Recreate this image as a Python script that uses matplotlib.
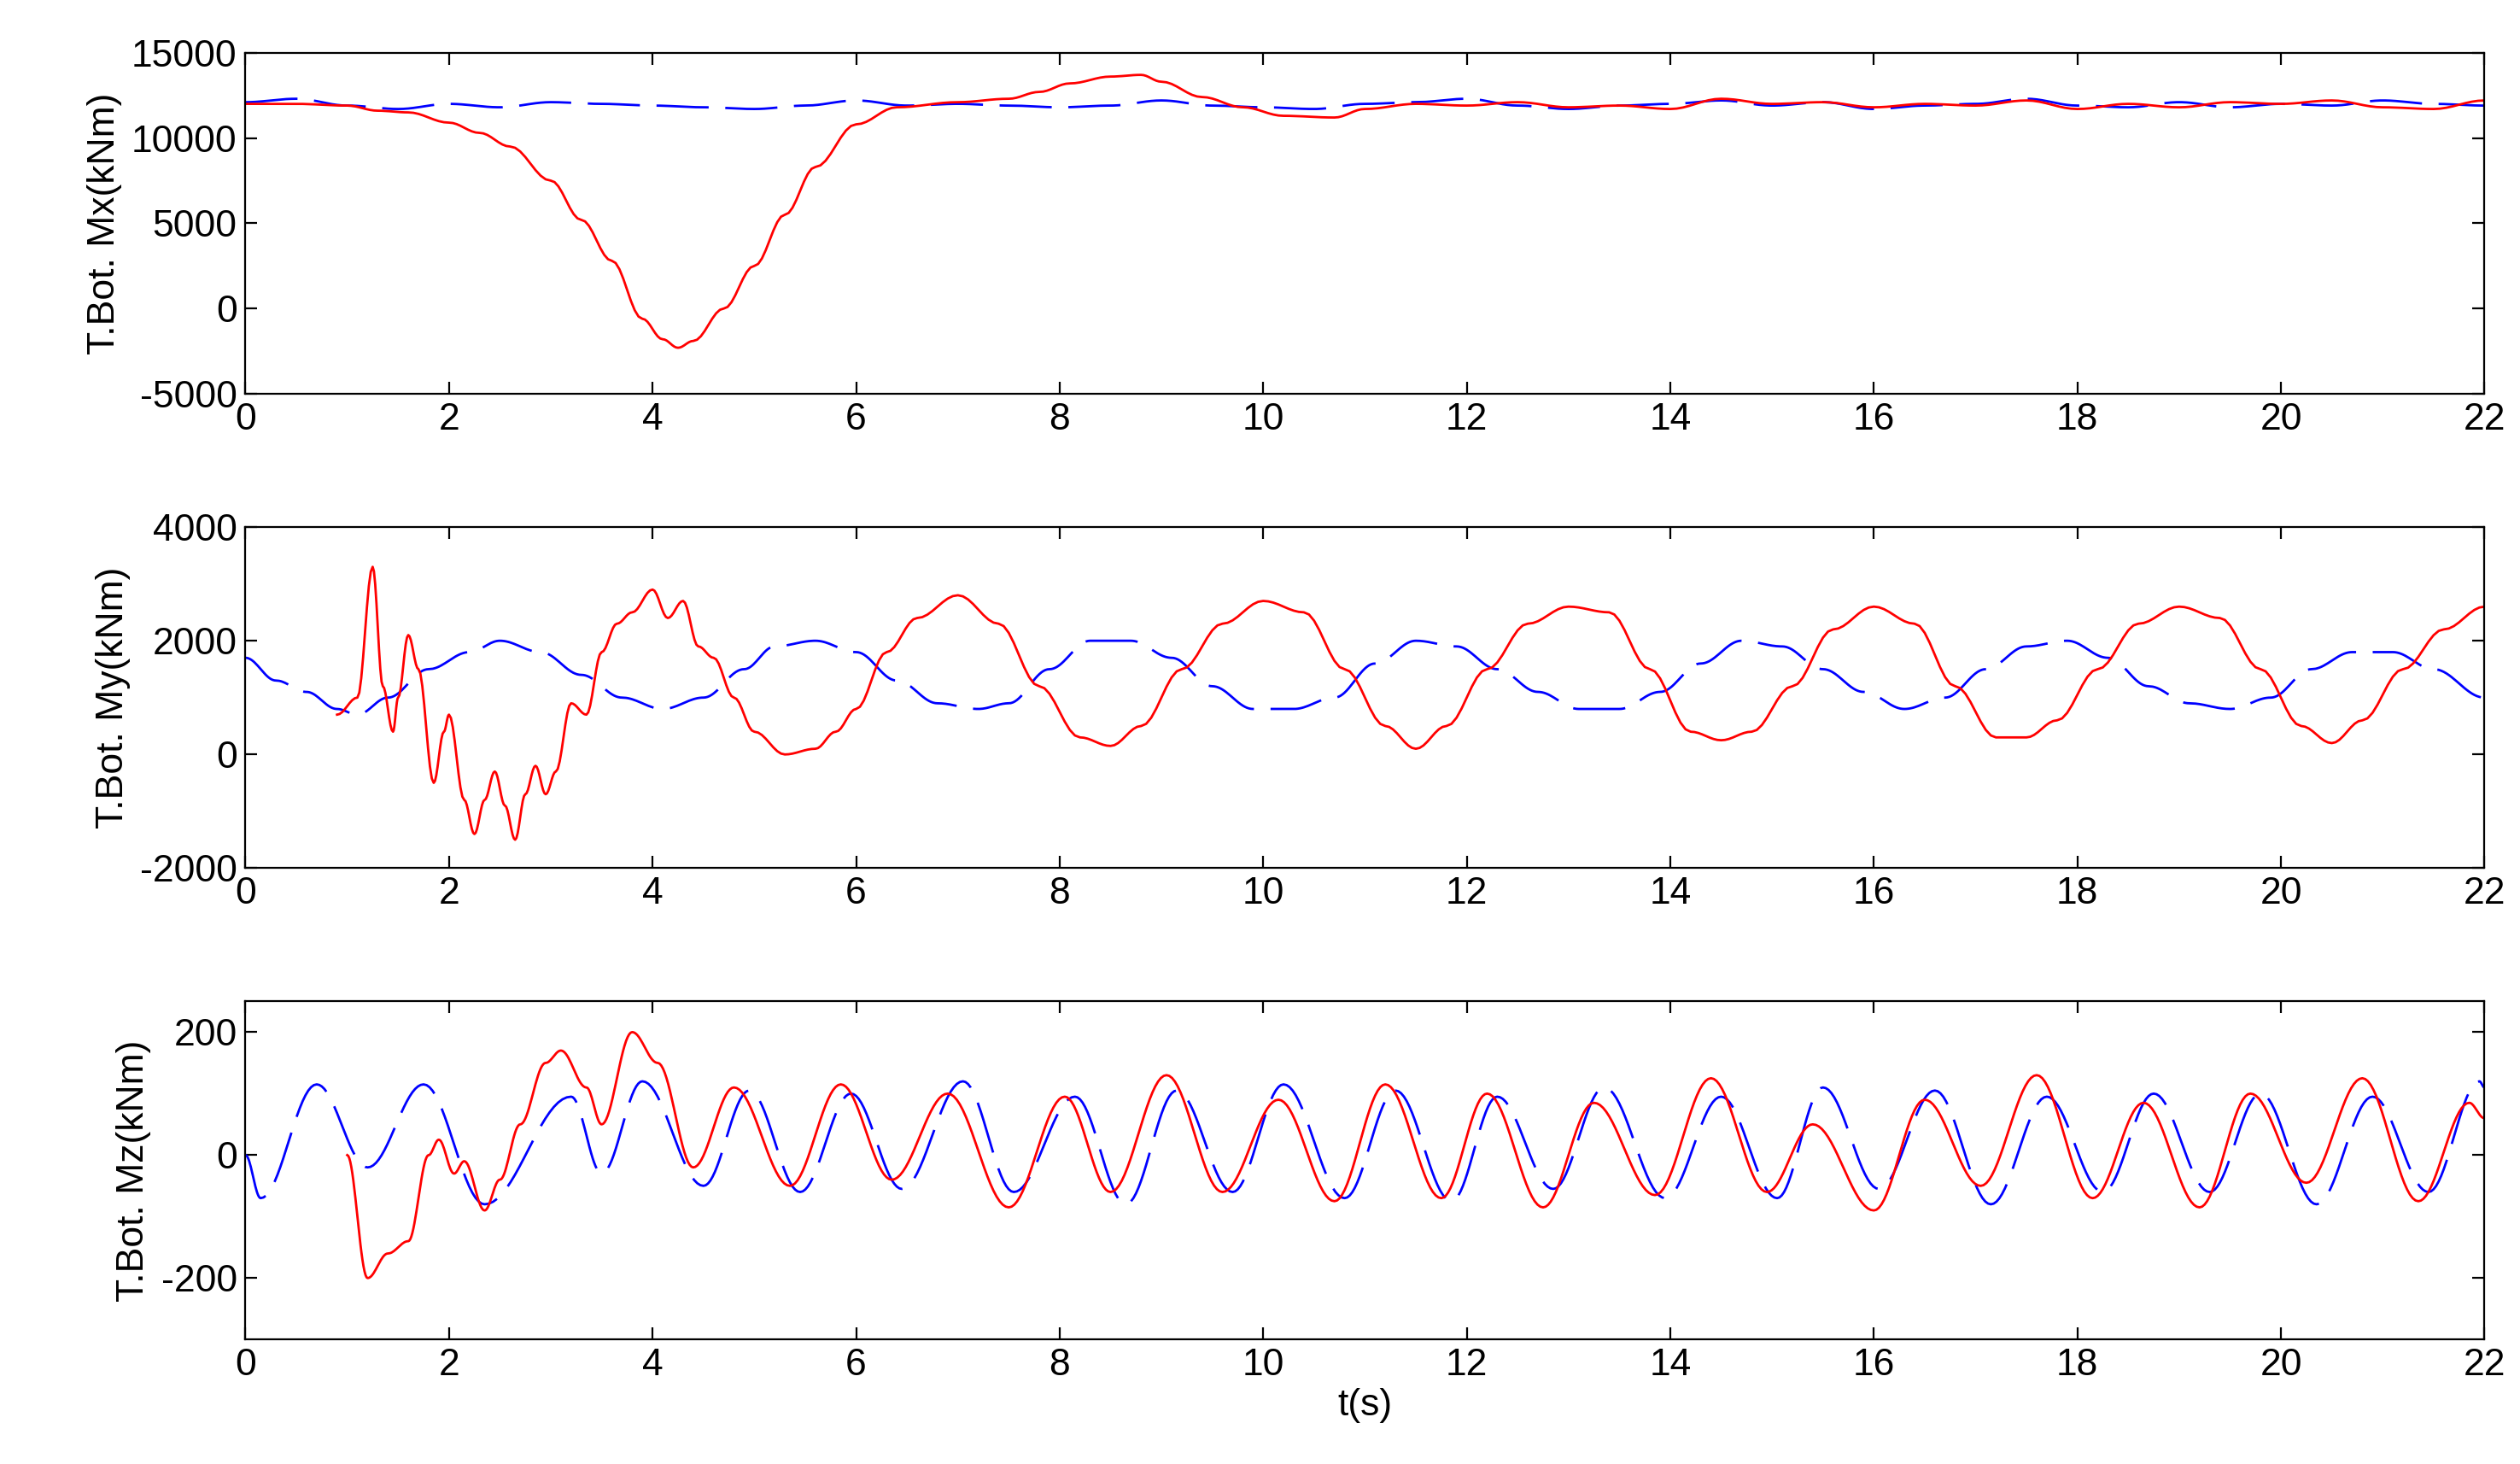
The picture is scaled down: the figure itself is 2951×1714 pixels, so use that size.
import numpy as np
import matplotlib
matplotlib.use("Agg")
import matplotlib.pyplot as plt

plt.rcParams['font.family'] = ['Liberation Sans', 'DejaVu Sans']
plt.rcParams['axes.unicode_minus'] = False

# ---- Data ----
mx_red_t = [0, 0.5, 1.0, 1.3, 1.6, 2.0, 2.3, 2.6, 3.0, 3.3, 3.6, 3.9, 4.1, 4.25, 4.4, 4.7, 5.0, 5.3, 5.6, 6.0, 6.4, 7.0, 7.5, 7.8, 8.1, 8.5, 8.8, 9.0, 9.4, 9.8, 10.2, 10.7, 11.0, 11.5, 12.0, 12.5, 13.0, 13.5, 14.0, 14.5, 15.0, 15.5, 16.0, 16.5, 17.0, 17.5, 18.0, 18.5, 19.0, 19.5, 20.0, 20.5, 21.0, 21.5, 22.0]
mx_red_v = [12000, 12000, 11900, 11600, 11500, 10900, 10300, 9500, 7500, 5200, 2800, -600, -1800, -2300, -1900, 0, 2500, 5500, 8300, 10800, 11800, 12100, 12300, 12700, 13200, 13600, 13700, 13300, 12400, 11800, 11300, 11200, 11700, 12000, 11900, 12100, 11800, 11900, 11700, 12300, 12000, 12100, 11800, 12000, 11900, 12200, 11700, 12000, 11800, 12100, 12000, 12200, 11800, 11700, 12200]
mx_blue_t = [0, 0.5, 1.0, 1.5, 2.0, 2.5, 3.0, 3.5, 4.0, 4.5, 5.0, 5.5, 6.0, 6.5, 7.0, 7.5, 8.0, 8.5, 9.0, 9.5, 10.0, 10.5, 11.0, 11.5, 12.0, 12.5, 13.0, 13.5, 14.0, 14.5, 15.0, 15.5, 16.0, 16.5, 17.0, 17.5, 18.0, 18.5, 19.0, 19.5, 20.0, 20.5, 21.0, 21.5, 22.0]
mx_blue_v = [12100, 12300, 11900, 11700, 12000, 11800, 12100, 12000, 11900, 11800, 11700, 11900, 12200, 11900, 12000, 11900, 11800, 11900, 12200, 11900, 11800, 11700, 12000, 12100, 12300, 11900, 11700, 11900, 12000, 12200, 11900, 12100, 11700, 11900, 12000, 12300, 11900, 11800, 12100, 11800, 12000, 11900, 12200, 12000, 11900]

my_red_t = [0.9, 1.1, 1.25, 1.35, 1.45, 1.5, 1.6, 1.7, 1.85, 1.95, 2.0, 2.15, 2.25, 2.35, 2.45, 2.55, 2.65, 2.75, 2.85, 2.95, 3.05, 3.2, 3.35, 3.5, 3.65, 3.8, 4.0, 4.15, 4.3, 4.45, 4.6, 4.8, 5.0, 5.3, 5.6, 5.8, 6.0, 6.3, 6.6, 7.0, 7.4, 7.8, 8.2, 8.5, 8.8, 9.2, 9.6, 10.0, 10.4, 10.8, 11.2, 11.5, 11.8, 12.2, 12.6, 13.0, 13.4, 13.8, 14.2, 14.5, 14.8, 15.2, 15.6, 16.0, 16.4, 16.8, 17.2, 17.5, 17.8, 18.2, 18.6, 19.0, 19.4, 19.8, 20.2, 20.5, 20.8, 21.2, 21.6, 22.0]
my_red_v = [700, 1000, 3300, 1200, 400, 1000, 2100, 1500, -500, 400, 700, -800, -1400, -800, -300, -900, -1500, -700, -200, -700, -300, 900, 700, 1800, 2300, 2500, 2900, 2400, 2700, 1900, 1700, 1000, 400, 0, 100, 400, 800, 1800, 2400, 2800, 2300, 1200, 300, 150, 500, 1500, 2300, 2700, 2500, 1500, 500, 100, 500, 1500, 2300, 2600, 2500, 1500, 400, 250, 400, 1200, 2200, 2600, 2300, 1200, 300, 300, 600, 1500, 2300, 2600, 2400, 1500, 500, 200, 600, 1500, 2200, 2600]
my_blue_t = [0, 0.3, 0.6, 0.9, 1.1, 1.4, 1.8, 2.2, 2.5, 2.9, 3.3, 3.7, 4.1, 4.5, 4.9, 5.2, 5.6, 6.0, 6.4, 6.8, 7.2, 7.5, 7.9, 8.3, 8.7, 9.1, 9.5, 9.9, 10.3, 10.7, 11.1, 11.5, 11.9, 12.3, 12.7, 13.1, 13.5, 13.9, 14.3, 14.7, 15.1, 15.5, 15.9, 16.3, 16.7, 17.1, 17.5, 17.9, 18.3, 18.7, 19.1, 19.5, 19.9, 20.3, 20.7, 21.1, 21.5, 22.0]
my_blue_v = [1700, 1300, 1100, 800, 700, 1000, 1500, 1800, 2000, 1800, 1400, 1000, 800, 1000, 1500, 1900, 2000, 1800, 1300, 900, 800, 900, 1500, 2000, 2000, 1700, 1200, 800, 800, 1000, 1600, 2000, 1900, 1500, 1100, 800, 800, 1100, 1600, 2000, 1900, 1500, 1100, 800, 1000, 1500, 1900, 2000, 1700, 1200, 900, 800, 1000, 1500, 1800, 1800, 1500, 1000]

mz_red_t = [1.0, 1.2, 1.4, 1.6, 1.8, 1.9, 2.05, 2.15, 2.35, 2.5, 2.7, 2.95, 3.1, 3.35, 3.5, 3.8, 4.05, 4.4, 4.8, 5.35, 5.85, 6.35, 6.9, 7.5, 8.05, 8.5, 9.05, 9.6, 10.15, 10.7, 11.2, 11.75, 12.2, 12.75, 13.25, 13.85, 14.4, 14.95, 15.4, 16.0, 16.5, 17.05, 17.6, 18.15, 18.65, 19.2, 19.7, 20.25, 20.8, 21.35, 21.85, 22.0]
mz_red_v = [0, -200, -160, -140, 0, 25, -30, -10, -90, -40, 50, 150, 170, 110, 50, 200, 150, -20, 110, -50, 115, -40, 100, -85, 95, -60, 130, -60, 90, -75, 115, -70, 100, -85, 85, -65, 125, -60, 50, -90, 90, -50, 130, -70, 85, -85, 100, -45, 125, -75, 85, 60]
mz_blue_t = [0, 0.15, 0.7, 1.2, 1.75, 2.35, 3.2, 3.5, 3.9, 4.5, 4.95, 5.45, 5.95, 6.45, 7.05, 7.55, 8.15, 8.65, 9.15, 9.7, 10.2, 10.8, 11.3, 11.85, 12.3, 12.85, 13.35, 13.95, 14.5, 15.05, 15.5, 16.05, 16.6, 17.15, 17.7, 18.25, 18.75, 19.3, 19.8, 20.35, 20.9, 21.45, 21.95, 22.0]
mz_blue_v = [0, -70, 115, -20, 115, -80, 95, -30, 120, -50, 105, -60, 100, -55, 120, -60, 95, -80, 105, -60, 115, -70, 105, -75, 95, -55, 110, -70, 95, -70, 110, -55, 105, -80, 95, -60, 100, -60, 100, -80, 95, -60, 120, 110]

def smooth(t, v, n=20):
    t = np.asarray(t, float); v = np.asarray(v, float)
    xs, ys = [], []
    for i in range(len(t) - 1):
        s = np.linspace(0, 1, n, endpoint=False)
        w = (1 - np.cos(np.pi * s)) / 2
        xs.append(t[i] + (t[i+1] - t[i]) * s)
        ys.append(v[i] + (v[i+1] - v[i]) * w)
    xs.append([t[-1]]); ys.append([v[-1]])
    return np.concatenate(xs), np.concatenate(ys)

fig = plt.figure(figsize=(14.755, 8.57), dpi=200)
L, W = 0.0974, 0.8885
axes = [fig.add_axes([L, 0.731, W, 0.233]),
        fig.add_axes([L, 0.407, W, 0.233]),
        fig.add_axes([L, 0.085, W, 0.231])]

dash = dict(color='blue', lw=1.0, dashes=(22, 7))
red = dict(color='red', lw=1.0)

ax = axes[0]
ax.plot(*smooth(mx_blue_t, mx_blue_v), **dash)
ax.plot(*smooth(mx_red_t, mx_red_v, 8), **red)
ax.set_ylim(-5000, 15000); ax.set_yticks([-5000, 0, 5000, 10000, 15000])
ax.set_ylabel('T.Bot. Mx(kNm)')

ax = axes[1]
ax.plot(*smooth(my_blue_t, my_blue_v), **dash)
ax.plot(*smooth(my_red_t, my_red_v, 8), **red)
ax.set_ylim(-2000, 4000); ax.set_yticks([-2000, 0, 2000, 4000])
ax.set_ylabel('T.Bot. My(kNm)')

ax = axes[2]
ax.plot(*smooth(mz_blue_t, mz_blue_v), **dash)
ax.plot(*smooth(mz_red_t, mz_red_v), **red)
ax.set_ylim(-300, 250); ax.set_yticks([-200, 0, 200])
ax.set_ylabel('T.Bot. Mz(kNm)')
ax.set_xlabel('t(s)', fontsize=16, labelpad=2)

for ax in axes:
    ax.set_xlim(0, 22); ax.set_xticks(range(0, 23, 2))
    ax.tick_params(direction='in', labelsize=16, length=5, top=True, right=True, labeltop=False, labelright=False)
    ax.yaxis.label.set_size(16)
    for s in ax.spines.values():
        s.set_linewidth(0.8)

fig.savefig('out.png', dpi=200)
